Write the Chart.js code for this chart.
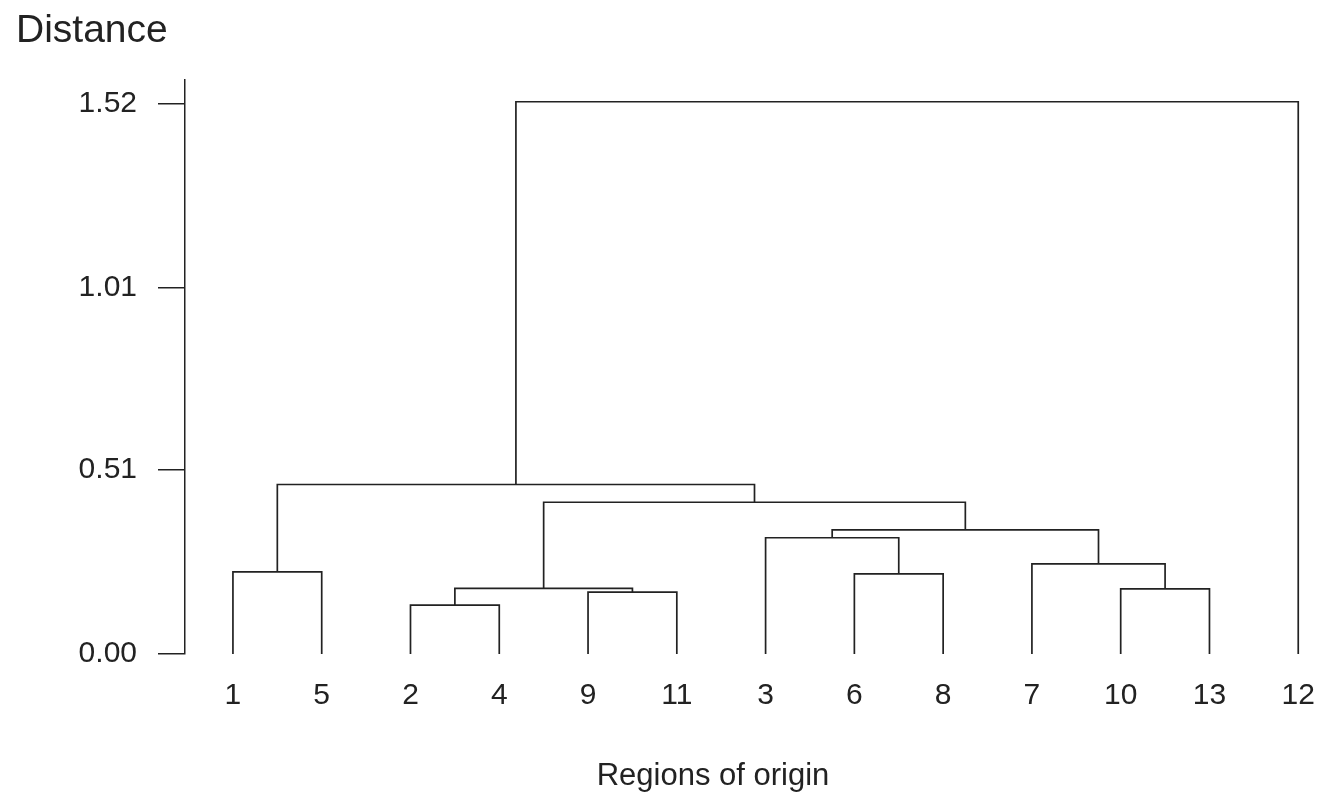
<!DOCTYPE html>
<html>
<head>
<meta charset="utf-8">
<script src="https://cdn.jsdelivr.net/npm/chart.js@4"></script>
<style>
  html, body { margin: 0; background: #fff; overflow: hidden; }
  #wrap { width: 1322px; height: 797px; position: relative; }
  canvas { display: block; }
</style>
</head>
<body>
<div id="wrap"><canvas id="treeChart"></canvas></div>
<script>
// leaves in the order they appear along the bottom
let leafLabels = ["1", "5", "2", "4", "9", "11", "3", "6", "8", "7", "10", "13", "12"];
// joins, scipy style: ids 0..12 are leaves, each join makes id 13, 14, ...
let mergeLeft   = [2, 4, 10, 13, 7, 0, 9, 6, 20, 16, 18, 23];
let mergeRight  = [3, 5, 11, 14, 8, 1, 15, 17, 19, 21, 22, 12];
let mergeHeight = [0.135, 0.171, 0.180, 0.181, 0.221, 0.227, 0.249, 0.321, 0.343, 0.419, 0.468, 1.525];
let yTicks = [0.00, 0.51, 1.01, 1.52];

let ink = "#222";
let font = "'Liberation Sans', Arial, sans-serif";

// work out where each cluster sits, then one bracket per join
let nodeX = leafLabels.map((l, i) => i);
let nodeH = leafLabels.map(() => 0);
let datasets = [];
for (let i = 0; i < mergeLeft.length; i++) {
  let a = mergeLeft[i], b = mergeRight[i], h = mergeHeight[i];
  datasets.push({
    data: [
      {x: nodeX[a], y: nodeH[a]},
      {x: nodeX[a], y: h},
      {x: nodeX[b], y: h},
      {x: nodeX[b], y: nodeH[b]}
    ],
    showLine: true,
    borderColor: ink,
    borderWidth: 1.7,
    pointRadius: 0,
    tension: 0,
    clip: false
  });
  nodeX.push((nodeX[a] + nodeX[b]) / 2);
  nodeH.push(h);
}

let textBits = {
  id: "textBits",
  afterDraw(chart) {
    let c = chart.ctx;
    c.save();
    c.fillStyle = ink;
    c.textBaseline = "alphabetic";
    c.textAlign = "left";
    c.font = "39px " + font;
    c.fillText("Distance", 16, 42);
    c.textAlign = "center";
    c.font = "31px " + font;
    c.fillText("Regions of origin", 713, 785);
    c.restore();
  }
};

let treeChart = new Chart(document.getElementById("treeChart"), {
  type: "scatter",
  data: { datasets: datasets },
  plugins: [textBits],
  options: {
    responsive: true,
    maintainAspectRatio: false,
    animation: false,
    layout: { padding: { top: 80, right: 6, left: 0, bottom: 0 } },
    plugins: { legend: { display: false }, tooltip: { enabled: false } },
    scales: {
      x: {
        type: "linear",
        min: -0.54,
        max: 12.2,
        afterBuildTicks: (scale) => { scale.ticks = leafLabels.map((l, i) => ({value: i})); },
        afterFit: (scale) => {
          scale.height = 143;
          scale.paddingLeft = 0;
          scale.paddingRight = 0;
        },
        grid: { display: false },
        border: { display: false },
        ticks: {
          autoSkip: false,
          maxRotation: 0,
          padding: 16,
          color: ink,
          font: { family: font, size: 30 },
          callback: (v) => leafLabels[v] ?? ""
        }
      },
      y: {
        min: 0,
        max: 1.585,
        afterBuildTicks: (scale) => { scale.ticks = yTicks.map(v => ({value: v})); },
        afterFit: (scale) => { scale.width = 185; },
        grid: { drawOnChartArea: false, drawTicks: true, tickLength: 27, color: ink, lineWidth: 1.5 },
        border: { display: true, color: ink, width: 1.5 },
        ticks: {
          padding: 21,
          color: ink,
          font: { family: font, size: 30 },
          callback: (v) => v.toFixed(2)
        }
      }
    }
  }
});
</script>
</body>
</html>
